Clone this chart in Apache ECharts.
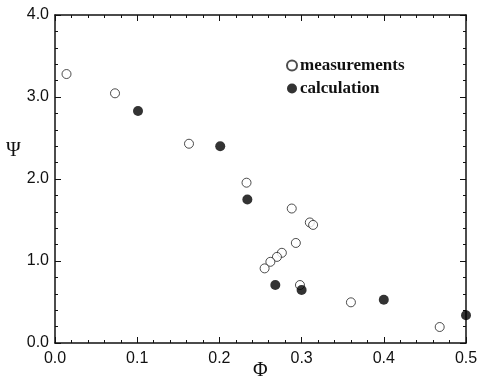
<!DOCTYPE html>
<html>
<head>
<meta charset="utf-8">
<script src="https://cdn.jsdelivr.net/npm/echarts@6/dist/echarts.min.js"></script>
<style>
  html, body { margin: 0; padding: 0; background: #fff; }
  #main { width: 480px; height: 380px; }
</style>
</head>
<body>
<div id="main"></div>
<script>
// measured points (open circles)
const measPhi = [0.014, 0.073, 0.163, 0.233, 0.288, 0.310, 0.314, 0.293, 0.276, 0.270, 0.262, 0.255, 0.298, 0.360, 0.468];
const measPsi = [3.28, 3.045, 2.43, 1.955, 1.64, 1.47, 1.44, 1.22, 1.10, 1.05, 0.99, 0.91, 0.707, 0.496, 0.195];
// calculated points (filled)
const calcPhi = [0.101, 0.201, 0.234, 0.268, 0.300, 0.400, 0.500];
const calcPsi = [2.83, 2.40, 1.75, 0.707, 0.646, 0.528, 0.338];

const seriesNames = ["measurements", "calculation"];
const tickFont = "'Liberation Sans', Arial, sans-serif";
const serif = "'Liberation Serif', 'DejaVu Serif', serif";

const zip = (a, b) => a.map((v, i) => [v, b[i]]);

const chart = echarts.init(document.getElementById("main"));

// fresh objects for every axis
const frame = () => ({
  axisLine: { show: true, onZero: false, lineStyle: { color: "#111", width: 1.5 } },
  axisTick: { show: true, inside: true, length: 6, lineStyle: { color: "#111", width: 1 } },
  minorTick: { show: true, splitNumber: 5, length: 3, lineStyle: { color: "#111", width: 1 } },
  splitLine: { show: false },
  minorSplitLine: { show: false },
});

const xAx = (pos, labels) => Object.assign(frame(), {
  type: "value", min: 0, max: 0.5, interval: 0.1, position: pos,
  axisLabel: {
    show: labels, margin: 8, fontFamily: tickFont, fontSize: 16, color: "#111",
    formatter: (v) => v.toFixed(1),
  },
});
const yAx = (pos, labels) => Object.assign(frame(), {
  type: "value", min: 0, max: 4, interval: 1, position: pos,
  axisLabel: {
    show: labels, margin: 6, fontFamily: tickFont, fontSize: 16, color: "#111",
    formatter: (v) => v.toFixed(1),
  },
});

chart.setOption({
  animation: false,
  backgroundColor: "#fff",
  grid: { left: 55, right: 14, top: 15, bottom: 37, containLabel: false, outerBoundsMode: "none" },
  legend: {
    orient: "vertical",
    left: 281,
    top: 52,
    itemGap: 6,
    itemWidth: 10,
    itemHeight: 10,
    data: [
      { name: seriesNames[0], icon: "circle" },
      { name: seriesNames[1], icon: "circle" },
    ],
    textStyle: { fontFamily: serif, fontWeight: "bold", fontSize: 17, color: "#111", padding: [0, 0, 0, -2] },
  },
  xAxis: [xAx("bottom", true), xAx("top", false)],
  yAxis: [yAx("left", true), yAx("right", false)],
  graphic: [
    {
      type: "text", left: 6, top: 141,
      style: { text: "Ψ", font: "20px " + serif, fill: "#111" },
    },
    {
      type: "text", left: 253, top: 361,
      style: { text: "Φ", font: "20px " + serif, fill: "#111" },
    },
  ],
  series: [
    {
      name: seriesNames[0], type: "scatter", data: zip(measPhi, measPsi),
      xAxisIndex: 0, yAxisIndex: 0,
      symbol: "circle", symbolSize: 9,
      itemStyle: { color: "#fff", borderColor: "#222", borderWidth: 1 },
      z: 3,
    },
    {
      name: seriesNames[1], type: "scatter", data: zip(calcPhi, calcPsi),
      xAxisIndex: 0, yAxisIndex: 0,
      symbol: "circle", symbolSize: 10,
      itemStyle: { color: "#000", borderColor: "#000", borderWidth: 0 },
      z: 4,
    },
    // empty series so the mirrored frame axes are drawn
    { type: "scatter", data: [], xAxisIndex: 1, yAxisIndex: 1, silent: true },
  ],
});
</script>
</body>
</html>
